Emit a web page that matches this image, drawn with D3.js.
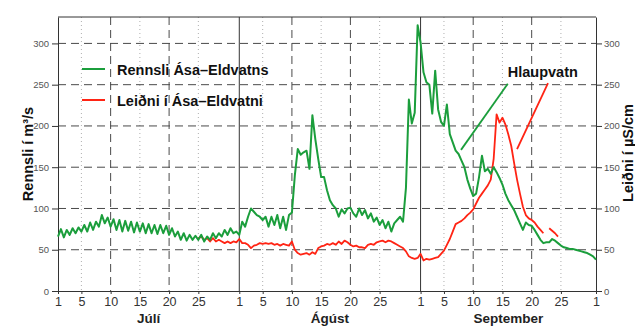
<!DOCTYPE html>
<html>
<head>
<meta charset="utf-8">
<script src="https://cdn.jsdelivr.net/npm/d3@7"></script>
<style>
  html, body { margin: 0; padding: 0; background: #fff; }
  svg { display: block; font-family: "Liberation Sans", Arial, sans-serif; }
</style>
</head>
<body>
<svg id="chart" width="635" height="327"></svg>
<script>
// ---------------- DATA ----------------
// Discharge (m3/s), sampled every 12 h from 1 July 00:00
const greenStart = "2000-07-01T00:00:00Z";
const sampleHours = 12;
const greenValues = [
  66, 75, 65, 74, 68, 76, 70, 77, 72, 80,
  72, 83, 74, 84, 78, 92, 82, 89, 78, 87,
  74, 86, 72, 85, 73, 84, 71, 83, 72, 82,
  70, 81, 70, 80, 69, 80, 70, 79, 68, 76,
  66, 72, 62, 70, 61, 68, 62, 67, 62, 68,
  60, 66, 62, 70, 64, 70, 66, 74, 68, 76,
  70, 72, 68, 84, 78, 90, 100, 96, 92, 90,
  86, 90, 78, 90, 80, 92, 76, 90, 74, 92,
  95, 140, 172, 165, 168, 170, 148, 213, 184, 160,
  138, 138, 122, 110, 104, 100, 90, 99, 94, 100,
  101, 94, 90, 100, 92, 98, 88, 94, 84, 89,
  80, 86, 76, 84, 72, 82, 86, 90, 84, 125,
  232, 203, 216, 322, 301, 265, 253, 250, 215, 267,
  220, 205, 200, 226, 190, 180, 170, 166, 158, 150,
  135, 124, 115, 118, 138, 164, 145, 148, 142, 150,
  144, 137, 129, 118, 110, 104, 98, 90, 82, 74,
  83, 80, 79, 74, 68, 62, 58, 59, 59, 63,
  61, 58, 55, 53, 52, 51, 51, 50, 49, 48,
  47, 46, 44, 42, 38
];
// Conductivity (µS/cm), sampled every 12 h from 25 July 00:00 (null = missing)
const redStart = "2000-07-25T00:00:00Z";
const redValues = [
  64, 66, 62, 64, 60, 64, 60, 62, 60, 58,
  60, 58, 60, 59, 63, 58, 58, 56, 52, 55,
  56, 58, 57, 58, 57, 58, 56, 57, 55, 57,
  56, 55, 60, 50, 46, 44, 45, 46, 44, 47,
  45, 52, 54, 55, 57, 56, 58, 56, 60, 57,
  61, 59, 56, 54, 55, 53, 53, 52, 56, 57,
  56, 59, 60, 61, 59, 61, 60, 58, 56, 54,
  52, 48, 42, 40, 39, 40, 45, 37, 39, 38,
  39, 40, 41, 45, 49, 56, 63, 72, 81, 83,
  85, 88, 92, 95, 99, 106, 113, 118, 123, 128,
  135, 160, 214, 204, 210, 202, 190, 176, 155, 135,
  118, 102, 92, 88, 86, 83, 78, 74, 70, null,
  76, 73, 70, 66
];
const months = ["Júlí", "Ágúst", "September"];
const monthStarts = ["2000-07-01", "2000-08-01", "2000-09-01", "2000-10-01"];
const tickDays = [1, 5, 10, 15, 20, 25];
const dashedDays = [10, 20];
const dottedDays = [5, 15, 25];
const yTicks = [0, 50, 100, 150, 200, 250, 300];
const yMax = 332;
const seriesNames = ["Rennsli Ása–Eldvatns", "Leiðni í Ása–Eldvatni"];
const leftTitle = "Rennsli í m³/s";
const rightTitle = "Leiðni í µS/cm";
const noteText = "Hlaupvatn";
const noteAnchor = { date: "2000-09-15T22:00:00Z", value: 259 };
const noteLines = [
  { from: { date: "2000-09-07T22:00:00Z", value: 171 }, to: { date: "2000-09-15T22:00:00Z", value: 251 } },
  { from: { date: "2000-09-17T12:00:00Z", value: 172 }, to: { date: "2000-09-22T19:00:00Z", value: 252 } }
];

// ---------------- LAYOUT ----------------
const W = 635, H = 327;
const m = { left: 58, right: 39, top: 17, bottom: 36 };
const iw = W - m.left - m.right, ih = H - m.top - m.bottom;
const GREEN = "#1b9e3c", RED = "#ff2414", GRID = "#4a4a4a";

const svg = d3.select("#chart");
svg.append("rect").attr("width", W).attr("height", H).attr("fill", "#fff");
const g = svg.append("g").attr("transform", `translate(${m.left},${m.top})`);

const parse = s => new Date(s.length <= 10 ? s + "T00:00:00Z" : s);
const x = d3.scaleUtc().domain([parse(monthStarts[0]), parse(monthStarts[3])]).range([0, iw]);
const y = d3.scaleLinear().domain([0, yMax]).range([ih, 0]);

const series = (start, vals) => vals.map((v, i) => ({ date: d3.utcHour.offset(parse(start), i * sampleHours), value: v }));
const green = series(greenStart, greenValues);
const red = series(redStart, redValues);

// ---------- gridlines ----------
const dayDate = (mi, d) => { const s = parse(monthStarts[mi]); return d3.utcDay.offset(s, d - 1); };
const grid = g.append("g");
for (let mi = 0; mi < 3; mi++) {
  dottedDays.forEach(d => {
    grid.append("line").attr("x1", x(dayDate(mi, d))).attr("x2", x(dayDate(mi, d)))
      .attr("y1", 0).attr("y2", ih).attr("stroke", "#9a9a9a").attr("stroke-width", 0.8)
      .attr("stroke-dasharray", "1,3");
  });
  dashedDays.forEach(d => {
    grid.append("line").attr("x1", x(dayDate(mi, d))).attr("x2", x(dayDate(mi, d)))
      .attr("y1", 0).attr("y2", ih).attr("stroke", GRID).attr("stroke-width", 1)
      .attr("stroke-dasharray", "8,5");
  });
}
yTicks.filter(v => v > 0).forEach(v => {
  grid.append("line").attr("x1", 0).attr("x2", iw).attr("y1", y(v)).attr("y2", y(v))
    .attr("stroke", GRID).attr("stroke-width", 1).attr("stroke-dasharray", "8,5");
});
// month boundaries
[1, 2].forEach(mi => {
  grid.append("line").attr("x1", x(parse(monthStarts[mi]))).attr("x2", x(parse(monthStarts[mi])))
    .attr("y1", 0).attr("y2", ih).attr("stroke", "#333").attr("stroke-width", 1);
});
// top frame
g.append("line").attr("x1", 0).attr("x2", iw).attr("y1", 0).attr("y2", 0).attr("stroke", "#333");

// ---------- axes ----------
const styleAxis = (sel, size, fill) => {
  sel.selectAll("path").attr("stroke", "#333").attr("stroke-width", 1);
  sel.selectAll("line").attr("stroke", "#333");
  sel.selectAll("text").attr("font-size", size).attr("fill", fill)
    .attr("font-family", "'Liberation Sans', Arial, sans-serif");
};
const yL = g.append("g").call(d3.axisLeft(y).tickValues(yTicks).tickSize(6).tickPadding(3).tickSizeOuter(0));
styleAxis(yL, 9.5, "#555");
const yR = g.append("g").attr("transform", `translate(${iw},0)`)
  .call(d3.axisRight(y).tickValues(yTicks).tickSize(6).tickPadding(2).tickSizeOuter(0));
styleAxis(yR, 9.5, "#555");

const xTickDates = [];
for (let mi = 0; mi < 3; mi++) tickDays.forEach(d => xTickDates.push(dayDate(mi, d)));
xTickDates.push(parse(monthStarts[3]));
const xA = g.append("g").attr("transform", `translate(0,${ih})`)
  .call(d3.axisBottom(x).tickValues(xTickDates).tickSize(3).tickPadding(3).tickSizeOuter(0)
    .tickFormat(d => d.getUTCDate()));
styleAxis(xA, 12.5, "#333");

// month labels
months.forEach((name, mi) => {
  const mid = new Date((parse(monthStarts[mi]).getTime() + parse(monthStarts[mi + 1]).getTime()) / 2);
  g.append("text").attr("x", x(mid)).attr("y", ih + 32).attr("text-anchor", "middle")
    .attr("font-size", 13.5).attr("font-weight", "bold").attr("fill", "#222").text(name);
});

// axis titles
svg.append("text").attr("transform", `translate(33,${m.top + ih * 0.5 + 0})rotate(-90)`)
  .attr("text-anchor", "middle").attr("font-size", 14.5).attr("font-weight", "bold").attr("fill", "#111")
  .text(leftTitle);
svg.append("text").attr("transform", `translate(633,${m.top + ih * 0.5 - 1})rotate(-90)`)
  .attr("text-anchor", "middle").attr("font-size", 14.5).attr("font-weight", "bold").attr("fill", "#111")
  .text(rightTitle);

// ---------- lines ----------
const line = d3.line().defined(d => d.value != null).x(d => x(d.date)).y(d => y(d.value));
g.append("path").datum(red).attr("d", line).attr("fill", "none").attr("stroke", RED)
  .attr("stroke-width", 1.8).attr("stroke-linejoin", "round");
g.append("path").datum(green).attr("d", line).attr("fill", "none").attr("stroke", GREEN)
  .attr("stroke-width", 2).attr("stroke-linejoin", "round");

// ---------- annotation ----------
[GREEN, RED].forEach((c, i) => {
  const l = noteLines[i];
  g.append("line").attr("x1", x(parse(l.from.date))).attr("y1", y(l.from.value))
    .attr("x2", x(parse(l.to.date))).attr("y2", y(l.to.value))
    .attr("stroke", c).attr("stroke-width", 1.8);
});
g.append("text").attr("x", x(parse(noteAnchor.date))).attr("y", y(noteAnchor.value))
  .attr("font-size", 14.5).attr("font-weight", "bold").attr("fill", "#111").text(noteText);

// ---------- legend ----------
const leg = svg.append("g").attr("transform", "translate(82,69)");
[GREEN, RED].forEach((c, i) => {
  const row = leg.append("g").attr("transform", `translate(0,${i * 31})`);
  row.append("line").attr("x1", 0).attr("x2", 23).attr("y1", 0).attr("y2", 0)
    .attr("stroke", c).attr("stroke-width", 2);
  row.append("text").attr("x", 35).attr("y", 5.5).attr("font-size", 14.5).attr("font-weight", "bold")
    .attr("fill", "#111").text(seriesNames[i]);
});
</script>
</body>
</html>
